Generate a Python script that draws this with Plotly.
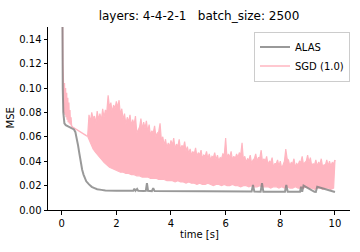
import plotly.graph_objects as go

# ---- ALAS (grey) ----
alas_t = [0.00, 0.02, 0.04, 0.06, 0.08, 0.10, 0.15, 0.20, 0.30, 0.40, 0.45, 0.50, 0.55, 0.60,
          0.65, 0.70, 0.75, 0.80, 0.85, 0.90, 1.00, 1.10, 1.20, 1.30, 1.45, 1.60, 2.00, 2.50,
          2.62, 2.66, 2.70, 2.76, 2.80, 3.00, 3.08, 3.12, 3.16, 3.30, 3.35, 3.40, 4.00, 5.00,
          6.00, 6.95, 7.00, 7.05, 7.28, 7.33, 7.38, 8.00, 8.17, 8.22, 8.27, 8.72, 8.76, 8.80,
          8.85, 9.25, 9.30, 9.35, 10.00]
alas_v = [0.300, 0.160, 0.100, 0.080, 0.073, 0.071, 0.0695, 0.069, 0.068, 0.067, 0.066, 0.064,
          0.059, 0.053, 0.046, 0.039, 0.033, 0.029, 0.026, 0.0235, 0.021, 0.019, 0.018, 0.017,
          0.0165, 0.016, 0.0158, 0.0157, 0.0157, 0.0175, 0.0157, 0.0172, 0.0157, 0.0156, 0.0158,
          0.022, 0.0158, 0.0155, 0.018, 0.0155, 0.0154, 0.0152, 0.0151, 0.0151, 0.0205, 0.0151,
          0.0150, 0.022, 0.0150, 0.0149, 0.0149, 0.0205, 0.0149, 0.0149, 0.019, 0.0149, 0.020,
          0.0149, 0.0148, 0.019, 0.0148, 0.0147]

# ---- SGD (1.0) (pink) ----
sgd_early_t = [0.00, 0.02, 0.04, 0.06, 0.08, 0.10, 0.12, 0.14, 0.16, 0.18, 0.20, 0.22, 0.24,
               0.26, 0.28, 0.30, 0.32, 0.34, 0.36, 0.40, 0.50, 0.60, 0.70, 0.80, 0.90, 0.95]
sgd_early_v = [0.300, 0.160, 0.120, 0.107, 0.080, 0.104, 0.078, 0.100, 0.076, 0.096, 0.074,
               0.092, 0.072, 0.088, 0.071, 0.082, 0.070, 0.076, 0.069, 0.068, 0.0665, 0.065,
               0.064, 0.0625, 0.061, 0.0605]

# high spikes at t = 1.0, 1.1, ..., 10.0
sgd_peaks = [0.078, 0.080, 0.077, 0.081, 0.079, 0.083, 0.082, 0.094, 0.088, 0.086,
             0.089, 0.090, 0.083, 0.079, 0.076, 0.078, 0.074, 0.077, 0.066, 0.075,
             0.072, 0.073, 0.070, 0.065, 0.069, 0.063, 0.071, 0.060, 0.058, 0.055,
             0.057, 0.059, 0.054, 0.058, 0.053, 0.056, 0.052, 0.050, 0.048, 0.051,
             0.047, 0.049, 0.045, 0.048, 0.046, 0.044, 0.047, 0.045, 0.043, 0.046,
             0.059, 0.046, 0.048, 0.044, 0.046, 0.047, 0.055, 0.044, 0.042, 0.045,
             0.041, 0.046, 0.043, 0.049, 0.042, 0.044, 0.040, 0.043, 0.038, 0.041,
             0.040, 0.037, 0.050, 0.041, 0.039, 0.042, 0.038, 0.040, 0.044, 0.039,
             0.045, 0.043, 0.038, 0.041, 0.039, 0.042, 0.037, 0.041, 0.040, 0.039,
             0.041]
# secondary spikes at t = 1.05, 1.15, ..., 9.95
sgd_mids = [0.072, 0.075, 0.071, 0.074, 0.073, 0.076, 0.080, 0.084, 0.080, 0.083,
            0.084, 0.078, 0.074, 0.070, 0.072, 0.069, 0.070, 0.063, 0.068, 0.066,
            0.067, 0.064, 0.061, 0.063, 0.060, 0.064, 0.057, 0.053, 0.051, 0.052,
            0.053, 0.050, 0.052, 0.049, 0.051, 0.048, 0.046, 0.045, 0.046, 0.044,
            0.045, 0.042, 0.044, 0.042, 0.041, 0.043, 0.041, 0.040, 0.042, 0.045,
            0.042, 0.043, 0.041, 0.042, 0.043, 0.045, 0.041, 0.039, 0.041, 0.038,
            0.042, 0.040, 0.043, 0.039, 0.040, 0.037, 0.039, 0.035, 0.038, 0.036,
            0.034, 0.040, 0.042, 0.036, 0.038, 0.035, 0.037, 0.039, 0.037, 0.040,
            0.039, 0.036, 0.037, 0.036, 0.038, 0.035, 0.037, 0.036, 0.036, 0.038]
# low points of the oscillation at t = 1.05, 1.15, ..., 9.95
sgd_troughs = [0.055, 0.050, 0.047, 0.044, 0.041, 0.039, 0.037, 0.035, 0.034, 0.033,
               0.032, 0.031, 0.031, 0.030, 0.030, 0.029, 0.029, 0.028, 0.028, 0.027,
               0.027, 0.027, 0.026, 0.026, 0.026, 0.025, 0.025, 0.025, 0.024, 0.024,
               0.024, 0.023, 0.024, 0.023, 0.023, 0.022, 0.023, 0.022, 0.022, 0.021,
               0.022, 0.021, 0.021, 0.022, 0.021, 0.020, 0.021, 0.021, 0.020, 0.021,
               0.020, 0.020, 0.021, 0.020, 0.020, 0.019, 0.020, 0.020, 0.019, 0.020,
               0.019, 0.019, 0.020, 0.019, 0.019, 0.019, 0.018, 0.019, 0.019, 0.018,
               0.019, 0.018, 0.019, 0.018, 0.018, 0.019, 0.018, 0.018, 0.018, 0.019,
               0.018, 0.018, 0.017, 0.018, 0.018, 0.017, 0.018, 0.018, 0.017, 0.018]

x_ticks = [0, 2, 4, 6, 8, 10]
y_ticks = [0.00, 0.02, 0.04, 0.06, 0.08, 0.10, 0.12, 0.14]

peak_t = [round(1.0 + 0.1 * i, 3) for i in range(len(sgd_peaks))]
half_t = [round(1.05 + 0.1 * i, 3) for i in range(len(sgd_troughs))]

# upper outline of the oscillation: peaks and secondary spikes alternating
upper_t, upper_v = [sgd_early_t[-1]], [sgd_early_v[-1]]
for i, p in enumerate(sgd_peaks):
    upper_t.append(peak_t[i]); upper_v.append(p)
    if i < len(sgd_mids):
        upper_t.append(half_t[i]); upper_v.append(sgd_mids[i])

# lower outline
lower_t = [sgd_early_t[-1]] + half_t + [peak_t[-1]]
lower_v = [sgd_early_v[-1]] + sgd_troughs + [sgd_peaks[-1]]

FONT = "DejaVu Sans"
PINK = "#FFB6C1"

fig = go.Figure()
fig.add_trace(go.Scatter(x=lower_t, y=lower_v, mode="lines",
                         line=dict(color=PINK, width=1.2),
                         showlegend=False, hoverinfo="skip"))
fig.add_trace(go.Scatter(x=upper_t, y=upper_v, mode="lines",
                         line=dict(color=PINK, width=1.2),
                         fill="tonexty", fillcolor=PINK,
                         showlegend=False, hoverinfo="skip"))
fig.add_trace(go.Scatter(x=sgd_early_t, y=sgd_early_v, mode="lines", name="SGD (1.0)",
                         line=dict(color=PINK, width=1.5)))
fig.add_trace(go.Scatter(x=alas_t, y=alas_v, mode="lines", name="ALAS",
                         line=dict(color="rgba(128,128,128,0.8)", width=2)))

fig.update_layout(
    width=360, height=252,
    margin=dict(l=48, r=10, t=27, b=42, autoexpand=False),
    paper_bgcolor="white", plot_bgcolor="white",
    font=dict(family=FONT, size=10, color="black"),
    title=dict(text="layers: 4-4-2-1\u00a0\u00a0 batch_size: 2500", x=0.5, xref="paper",
               xanchor="center",
               y=1 - 16 / 252, yref="container", yanchor="middle",
               font=dict(family=FONT, size=12, color="black")),
    showlegend=True,
    legend=dict(x=1, xanchor="right", y=0.975, yanchor="top", traceorder="reversed",
                bgcolor="rgba(255,255,255,0.8)", bordercolor="#cccccc", borderwidth=1,
                font=dict(family=FONT, size=10), tracegroupgap=0),
    xaxis=dict(range=[-0.5, 10.55], tickvals=x_ticks, ticktext=[str(v) for v in x_ticks],
               showgrid=False, zeroline=False, showline=True, linecolor="black",
               linewidth=1, ticks="outside", ticklen=3.5, tickcolor="black",
               automargin=False),
    yaxis=dict(range=[0, 0.15], tickvals=y_ticks, tickformat=".2f",
               showgrid=False, zeroline=False, showline=True, linecolor="black",
               linewidth=1, ticks="outside", ticklen=3.5, tickcolor="black",
               automargin=False),
    annotations=[
        dict(text="time [s]", xref="paper", yref="paper", x=0.5, y=-24.5 / 183,
             xanchor="center", yanchor="middle", showarrow=False,
             font=dict(family=FONT, size=10)),
        dict(text="MSE", xref="paper", yref="paper", x=-38 / 302, y=0.5,
             xanchor="center", yanchor="middle", textangle=-90, showarrow=False,
             font=dict(family=FONT, size=10)),
    ],
)

fig.write_html("out.html", config={"displayModeBar": False},
               post_script="document.body.style.margin='0';document.body.style.overflow='hidden';")
